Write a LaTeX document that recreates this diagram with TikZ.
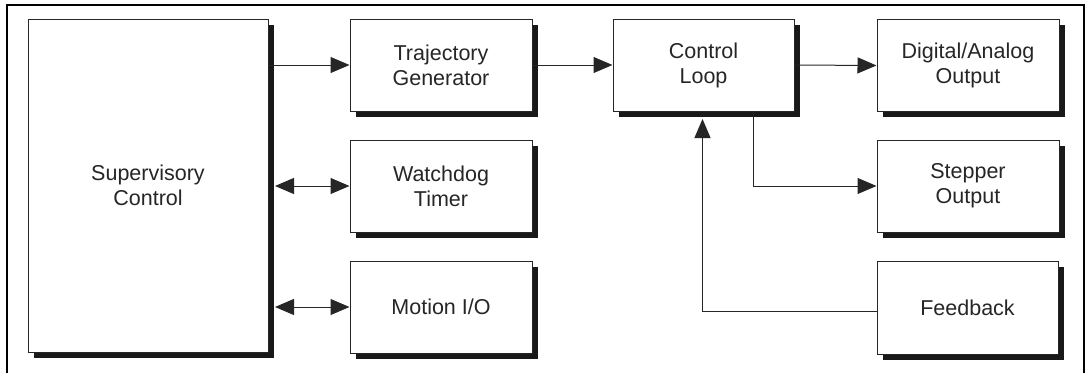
\documentclass[tikz,border=0pt]{standalone}
\usepackage{fontspec}
\setmainfont{Liberation Sans}
\usetikzlibrary{shadows,arrows.meta,calc}

\tikzset{
  block/.style={draw=black!85, line width=1pt, fill=white,
    minimum width=182pt, minimum height=92pt, inner sep=2pt, align=center,
    text=black!85, font=\fontsize{21.5}{25}\selectfont,
    drop shadow={shadow xshift=5.5pt, shadow yshift=-5.5pt, fill=black!90, opacity=1}},
  link/.style={draw=black!85, line width=1pt,
    -{Triangle[length=19pt,width=16pt]}},
  duplex/.style={draw=black!85, line width=1pt,
    {Triangle[length=19pt,width=16pt]}-{Triangle[length=19pt,width=16pt]}},
  frame/.style={draw=black, line width=2pt}
}

\begin{document}
\begin{tikzpicture}[x=1pt,y=-1pt]
\useasboundingbox (0,0) rectangle (1086,372);
\clip (0,0) rectangle (1086,372);

% outer frame
\draw[frame] (7,380) |- (1084,5) -- (1084,380);

% blocks
\node[block, minimum width=240pt, minimum height=333pt] (sup) at (148,185.5) {Supervisory\\Control};
\node[block] (traj) at (441,65)   {Trajectory\\Generator};
\node[block] (wdog) at (441,186)  {Watchdog\\Timer};
\node[block] (mio)  at (441,307)  {Motion I/O};
\node[block, minimum width=181pt] (ctrl) at (703.5,65) {Control\\Loop};
\node[block] (dao)  at (968,65.5) {Digital/Analog\\Output};
\node[block] (step) at (968,186)  {Stepper\\Output};
\node[block, minimum width=181pt, minimum height=93pt] (fb) at (967.5,307.5) {Feedback};

% connectors
\draw[link] (sup.east |- traj.west) -- (traj.west);
\draw[link] (traj.east) -- (ctrl.west);
\draw[link] (ctrl.east) -- (dao.west);
\draw[link] ($(ctrl.south)+(49.5,0)$) |- (step.west);
\draw[link] ($(fb.west)+(0,4)$) -| ($(ctrl.south)+(-1,7.5)$);
\draw[duplex] ($(sup.east |- wdog.west)+(6.5,0)$) -- (wdog.west);
\draw[duplex] ($(sup.east |- mio.west)+(6.5,0)$) -- (mio.west);
\end{tikzpicture}
\end{document}
